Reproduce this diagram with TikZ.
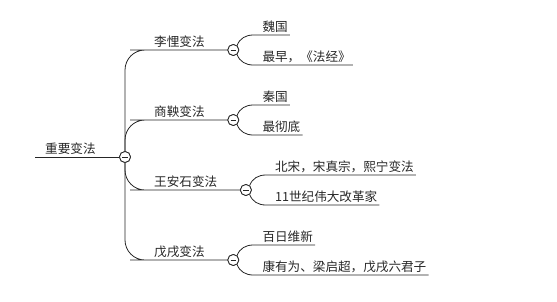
\documentclass[tikz,border=0pt]{standalone}
\usepackage{fontspec}
\setmainfont{Noto Sans CJK SC}
\begin{document}
\begin{tikzpicture}[x=1pt,y=-1pt,
  txt/.style={font=\fontsize{12.6pt}{14pt}\selectfont, text=black!85, inner xsep=0pt, inner ysep=1.8pt, anchor=south west},
  tog/.style={circle, draw=black!85, line width=0.8pt, minimum size=11pt, inner sep=0pt, fill=white,
    path picture={\draw[line width=0.8pt] ([xshift=-2.6pt]path picture bounding box.center) -- ([xshift=2.6pt]path picture bounding box.center);}},
  conn/.style={draw=black!85, line width=0.8pt},
  trunk/.style={conn, rounded corners=20pt},
]
\useasboundingbox (0,0) rectangle (557,301);
% root
\node[txt] (root) at (45,157) {重要变法};
\node[tog] (rc) at (125,157) {};
% level 1
\node[txt] (l1) at (154,50) {李悝变法};
\node[txt] (l2) at (154,120) {商鞅变法};
\node[txt] (l3) at (154,190) {王安石变法};
\node[txt] (l4) at (154,260) {戊戌变法};
\node[tog] (c1) at ([xshift=28.5pt]l1.south east) {};
\node[tog] (c2) at ([xshift=28.5pt]l2.south east) {};
\node[tog] (c3) at ([xshift=28.5pt]l3.south east) {};
\node[tog] (c4) at ([xshift=28.5pt]l4.south east) {};
% level 2
\node[txt] (k11) at ([shift={(29,-15)}]c1.center) {魏国};
\node[txt] (k12) at ([shift={(29,15)}]c1.center) {最早，《法经》};
\node[txt] (k21) at ([shift={(29,-15)}]c2.center) {秦国};
\node[txt] (k22) at ([shift={(29,15)}]c2.center) {最彻底};
\node[txt] (k31) at ([shift={(29,-15)}]c3.center) {北宋，宋真宗，熙宁变法};
\node[txt] (k32) at ([shift={(29,15)}]c3.center) {11世纪伟大改革家};
\node[txt] (k41) at ([shift={(29,-15)}]c4.center) {百日维新};
\node[txt] (k42) at ([shift={(29,15)}]c4.center) {康有为、梁启超，戊戌六君子};
% connectors
\draw[conn] ([xshift=-10pt]root.south west) -- (rc);
\draw[trunk] (rc.north) |- ([xshift=-4pt]l1.south west) -- (c1);
\draw[trunk] (rc.north) |- ([xshift=-4pt]l2.south west) -- (c2);
\draw[trunk] (rc.south) |- ([xshift=-4pt]l3.south west) -- (c3);
\draw[trunk] (rc.south) |- ([xshift=-4pt]l4.south west) -- (c4);
\foreach \c/\a/\b in {c1/k11/k12, c2/k21/k22, c3/k31/k32, c4/k41/k42}{
  \draw[conn] (\c.50) to[out=70,in=180] ([xshift=-9pt]\a.south west) -- ([xshift=2pt]\a.south east);
  \draw[conn] (\c.-50) to[out=-70,in=180] ([xshift=-9pt]\b.south west) -- ([xshift=2pt]\b.south east);
}
% redraw toggles on top
\foreach \c in {rc,c1,c2,c3,c4}{
  \node[tog] at (\c) {};
}
\end{tikzpicture}
\end{document}
